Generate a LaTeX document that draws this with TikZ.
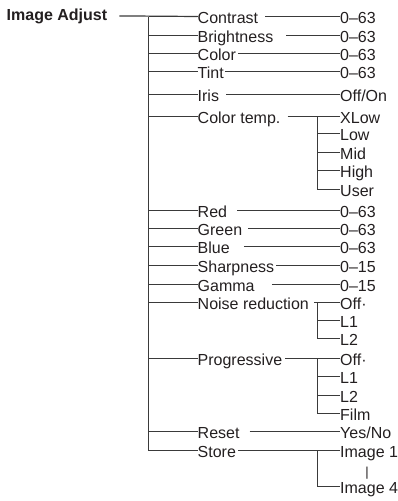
\documentclass[tikz,border=0pt]{standalone}
\usepackage{fontspec}
\setmainfont{Liberation Sans}
\definecolor{menuText}{HTML}{231F20}
\definecolor{menuLine}{HTML}{3A3A3A}

\begin{document}
\begin{tikzpicture}[x=1pt, y=-1pt,
    every node/.style={inner sep=0pt, text=menuText, font=\fontsize{16}{19}\selectfont},
    entry/.style={anchor=west, text height=13.2pt, text depth=0pt},
    wire/.style={draw=menuLine, line width=1.2pt}]
    \useasboundingbox (0,0) rectangle (398,501);
    \node[anchor=base west, font=\bfseries\fontsize{16}{19}\selectfont] (head) at (6.5,20) {Image Adjust};
    \coordinate (trunk) at (148.5,16.5);
    \coordinate (subx) at (317.5,0);
    % first level items and their values
    \foreach \lbl/\val/\y/\gap [count=\i] in {Contrast/0--63/16.5/7, Brightness/0--63/35.5/13, Color/0--63/53.5/2,
        Tint/0--63/71.5/1, Iris/{Off/On}/94.5/7, Color temp./XLow/116.5/7, Red/0--63/210.5/10, Green/0--63/228.5/6,
        Blue/0--63/246.5/14, Sharpness/0--15/265.5/2, Gamma/0--15/284.5/17, Noise reduction/Off·/302.5/5,
        Progressive/Off·/358.5/3, Reset/{Yes/No}/431.5/10, Store/{Image 1}/450.5/2}
    {
        \node[entry] (item\i) at (197.5,\y) {\lbl};
        \node[entry] (value\i) at (340,\y) {\val};
        \draw[wire] (item\i.west -| trunk) -- (item\i.west);
        \draw[wire] ([xshift=\gap pt]item\i.east) -- (value\i.west);
    }
    \draw[wire] ([xshift=12pt]head.east) -- (item1.west);
    \draw[wire] (trunk) |- (item15.west);
    % second level choices
    \foreach \v/\y/\n in {Low/133.5/ctLow, Mid/152.5/ctMid, High/170.5/ctHigh, User/189.5/ctUser,
        L1/320.5/nrOne, L2/338.5/nrTwo, L1/376.5/prOne, L2/395.5/prTwo, Film/413.5/prFilm, Image 4/486.5/stFour}
        \node[entry] (\n) at (340,\y) {\v};
    \node[font=\fontsize{13}{15}\selectfont] (stRange) at (367,473) {|};
    \draw[wire] (value6.west -| subx) |- (ctUser.west);
    \draw[wire] (value12.west -| subx) |- (nrTwo.west);
    \draw[wire] (value13.west -| subx) |- (prFilm.west);
    \draw[wire] (value15.west -| subx) |- (stFour.west);
    \foreach \n in {ctLow, ctMid, ctHigh, nrOne, prOne, prTwo}
        \draw[wire] (\n.west -| subx) -- (\n.west);
\end{tikzpicture}
\end{document}
